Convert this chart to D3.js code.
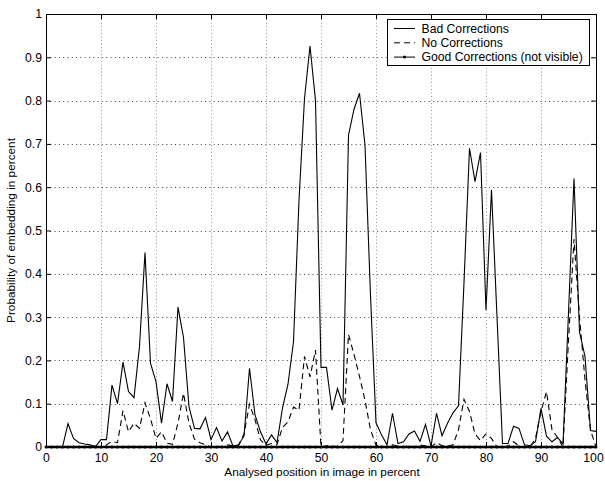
<!DOCTYPE html>
<html>
<head>
<meta charset="utf-8">
<script src="https://cdn.jsdelivr.net/npm/d3@7"></script>
<style>
  html, body { margin: 0; padding: 0; background: #fff; }
  svg { display: block; }
  text { font-family: "Liberation Sans", Arial, Helvetica, sans-serif; fill: #000; }
</style>
</head>
<body>
<svg id="chart" width="605" height="481"></svg>
<script>
// ---- data ----
const positions = [0,1,2,3,4,5,6,7,8,9,10,11,12,13,14,15,16,17,18,19,20,21,22,23,24,25,26,27,28,29,30,31,32,33,34,35,36,37,38,39,40,41,42,43,44,45,46,47,48,49,50,51,52,53,54,55,56,57,58,59,60,61,62,63,64,65,66,67,68,69,70,71,72,73,74,75,76,77,78,79,80,81,82,83,84,85,86,87,88,89,90,91,92,93,94,95,96,97,98,99,100];

const badCorrections = [
  0, 0, 0, 0, 0.054, 0.02, 0.01, 0.007, 0.005, 0.001,
  0.017, 0.017, 0.143, 0.1, 0.196, 0.128, 0.114, 0.232, 0.449, 0.193,
  0.151, 0.055, 0.146, 0.105, 0.323, 0.253, 0.093, 0.043, 0.042, 0.068,
  0.017, 0.045, 0.014, 0.035, 0.002, 0.005, 0.025, 0.182, 0.074, 0.035,
  0.007, 0.028, 0.01, 0.09, 0.145, 0.243, 0.57, 0.805, 0.926, 0.80,
  0.184, 0.184, 0.085, 0.135, 0.097, 0.72, 0.78, 0.817, 0.697, 0.35,
  0.056, 0.028, 0.005, 0.078, 0.008, 0.012, 0.03, 0.037, 0.013, 0.052,
  0.002, 0.078, 0.026, 0.055, 0.079, 0.095, 0.38, 0.69, 0.613, 0.68,
  0.316, 0.594, 0.30, 0.008, 0.008, 0.048, 0.043, 0.005, 0.003, 0.012,
  0.089, 0.025, 0.012, 0.022, 0.007, 0.31, 0.62, 0.266, 0.209, 0.038,
  0.036
];

const noCorrections = [
  0, 0, 0, 0, 0, 0, 0, 0, 0, 0,
  0, 0.005, 0.013, 0.01, 0.084, 0.035, 0.055, 0.043, 0.102, 0.065,
  0.02, 0.035, 0.009, 0.006, 0.055, 0.124, 0.055, 0.018, 0.01, 0.005,
  0, 0.002, 0, 0.005, 0.003, 0.003, 0.03, 0.099, 0.063, 0.016,
  0.004, 0.008, 0.006, 0.045, 0.058, 0.092, 0.085, 0.209, 0.162, 0.224,
  0, 0.003, 0.002, 0.001, 0.015, 0.26, 0.214, 0.163, 0.108, 0.04,
  0.004, 0.002, 0, 0.005, 0.002, 0, 0.003, 0, 0.005, 0.002,
  0, 0.01, 0.003, 0.002, 0.005, 0.04, 0.11, 0.082, 0.03, 0.015,
  0.03, 0.02, 0, 0, 0.002, 0.012, 0.002, 0, 0, 0.02,
  0.082, 0.128, 0.04, 0.022, 0, 0.245, 0.48, 0.3, 0.155, 0.039,
  0
];

const goodCorrections = [
  0,0,0,0,0,0,0,0,0,0, 0,0,0,0,0,0,0,0,0,0, 0,0,0,0,0,0,0,0,0,0,
  0,0,0,0,0,0,0,0,0,0, 0,0,0,0,0,0,0,0,0,0, 0,0,0,0,0,0,0,0,0,0,
  0,0,0,0,0,0,0,0,0,0, 0,0,0,0,0,0,0,0,0,0, 0,0,0,0,0,0,0,0,0,0,
  0,0,0,0,0,0,0,0,0,0, 0
];

const xTicks = [0, 10, 20, 30, 40, 50, 60, 70, 80, 90, 100];
const yTicks = [0, 0.1, 0.2, 0.3, 0.4, 0.5, 0.6, 0.7, 0.8, 0.9, 1];
const yTickLabels = ["0", "0.1", "0.2", "0.3", "0.4", "0.5", "0.6", "0.7", "0.8", "0.9", "1"];
const seriesNames = ["Bad Corrections", "No Corrections", "Good Corrections (not visible)"];
const xTitle = "Analysed position in image in percent";
const yTitle = "Probability of embedding in percent";

// ---- layout ----
const W = 605, H = 481;
const m = { left: 46, right: 9, top: 14, bottom: 34 };
const svg = d3.select("#chart");
const x = d3.scaleLinear().domain([0, 100]).range([m.left, W - m.right]);
const y = d3.scaleLinear().domain([0, 1]).range([H - m.bottom, m.top]);

// grid
const grid = svg.append("g");
grid.selectAll("line.hg").data(yTicks.slice(1, -1)).join("line")
  .attr("x1", x(0)).attr("x2", x(100))
  .attr("y1", d => Math.round(y(d)) + 0.5).attr("y2", d => Math.round(y(d)) + 0.5)
  .attr("stroke", "#444").attr("stroke-width", 1).attr("stroke-dasharray", "1,3.3");
grid.selectAll("line.vg").data(xTicks.slice(1, -1)).join("line")
  .attr("y1", y(0)).attr("y2", y(1))
  .attr("x1", d => Math.round(x(d)) + 0.5).attr("x2", d => Math.round(x(d)) + 0.5)
  .attr("stroke", "#999").attr("stroke-width", 1).attr("stroke-dasharray", "1,2.5");

// axes with inward ticks
const fontSize = 12.2;
const axB = svg.append("g").attr("transform", `translate(0,${y(0)})`)
  .call(d3.axisBottom(x).tickValues(xTicks).tickSize(-5).tickPadding(6.5).tickFormat(d3.format("d")));
const axT = svg.append("g").attr("transform", `translate(0,${y(1)})`)
  .call(d3.axisTop(x).tickValues(xTicks).tickSize(-5).tickFormat(""));
const axL = svg.append("g").attr("transform", `translate(${x(0)},0)`)
  .call(d3.axisLeft(y).tickValues(yTicks).tickSize(-5).tickPadding(4).tickFormat((d, i) => yTickLabels[i]));
const axR = svg.append("g").attr("transform", `translate(${x(100)},0)`)
  .call(d3.axisRight(y).tickValues(yTicks).tickSize(-5).tickFormat(""));
[axB, axT, axL, axR].forEach(a => {
  a.select(".domain").attr("stroke", "#000").attr("stroke-width", 1);
  a.selectAll(".tick line").attr("stroke", "#000");
  a.selectAll("text").attr("font-size", fontSize).attr("font-family", "Liberation Sans, Arial, sans-serif").attr("fill", "#000");
});
// keep the last x label inside the picture, as in the reference
axB.selectAll(".tick text").filter(d => d === 100).attr("dx", -3);

// lines
const line = (vals) => d3.line().x((d, i) => x(positions[i])).y(d => y(d))(vals);

svg.append("path").attr("d", line(noCorrections))
  .attr("fill", "none").attr("stroke", "#000").attr("stroke-width", 1.1)
  .attr("stroke-dasharray", "6,4");
svg.append("path").attr("d", line(badCorrections))
  .attr("fill", "none").attr("stroke", "#000").attr("stroke-width", 1.1);
svg.append("path").attr("d", line(goodCorrections))
  .attr("fill", "none").attr("stroke", "#000").attr("stroke-width", 2.5);
svg.append("g").selectAll("circle").data(goodCorrections).join("circle")
  .attr("cx", (d, i) => x(positions[i])).attr("cy", d => y(d)).attr("r", 1.5).attr("fill", "#000");

// titles
svg.append("text").attr("x", (x(0) + x(100)) / 2 + 1).attr("y", 476)
  .attr("text-anchor", "middle").attr("font-size", 11.8).text(xTitle);
svg.append("text").attr("transform", `translate(15,${(y(0) + y(1)) / 2}) rotate(-90)`)
  .attr("text-anchor", "middle").attr("font-size", 11.8).text(yTitle);

// legend
const lg = svg.append("g");
const lgX = 387.5, lgY = 19.5, lgW = 202, lgH = 46;
lg.append("rect").attr("x", lgX).attr("y", lgY).attr("width", lgW).attr("height", lgH)
  .attr("fill", "#fff").attr("stroke", "#000").attr("stroke-width", 1);
seriesNames.forEach((name, i) => {
  const yy = lgY + 4 + i * 14.3 + 5;
  const l = lg.append("line").attr("x1", 394).attr("x2", 415).attr("y1", yy).attr("y2", yy)
    .attr("stroke", "#000").attr("stroke-width", 1);
  if (i === 1) l.attr("stroke-dasharray", "6,4");
  if (i === 2) lg.append("circle").attr("cx", 404.5).attr("cy", yy).attr("r", 1.5).attr("fill", "#000");
  lg.append("text").attr("x", 421.5).attr("y", yy + 4).attr("font-size", fontSize).text(name);
});
</script>
</body>
</html>
